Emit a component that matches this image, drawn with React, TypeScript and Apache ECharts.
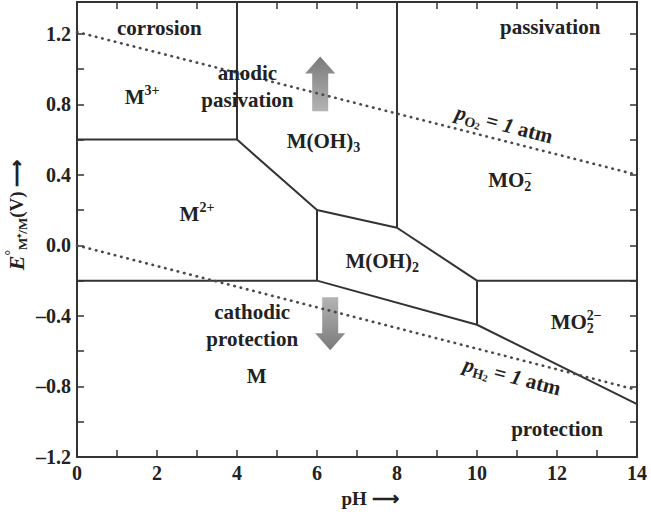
import React, { useEffect, useRef } from "react";
import * as echarts from "echarts";

// axis ranges
const phRange = [0, 14];
const eRange = [-1.2, 1.38];

// phase boundaries (pH, E)
const lineM3M2 = [[0, 0.6], [4, 0.6]];
const lineM3Passive = [[4, 0.6], [4, 1.38]];
const lineM2Hydroxide3 = [[4, 0.6], [6, 0.2]];
const lineHydroxides = [[6, 0.2], [8, 0.1]];
const lineHydroxide3MO2 = [[8, 0.1], [8, 1.38]];
const lineM2Hydroxide2 = [[6, 0.2], [6, -0.2]];
const lineHydroxide2MO2 = [[8, 0.1], [10, -0.2]];
const lineM2Metal = [[0, -0.2], [6, -0.2]];
const lineMO2MO22 = [[10, -0.2], [14, -0.2]];
const lineHydroxide2MO22 = [[10, -0.2], [10, -0.45]];
const lineMetalUpper = [[6, -0.2], [10, -0.45], [14, -0.9]];
const boundaries = [
  lineM3M2, lineM3Passive, lineM2Hydroxide3, lineHydroxides, lineHydroxide3MO2,
  lineM2Hydroxide2, lineHydroxide2MO2, lineM2Metal, lineMO2MO22, lineHydroxide2MO22, lineMetalUpper,
];

// water stability lines
const oxygenLine = [[0, 1.21], [14, 0.4]];
const hydrogenLine = [[0, 0], [14, -0.82]];

// annotation texts
const labelTexts = [
  "corrosion",
  "passivation",
  "M{sup|3+}",
  "anodic\npasivation",
  "M(OH){sub|3}",
  "MO{sub|2}{supk|−}",
  "{it|p}{sub|O}{sub2|2} = {it|1} atm",
  "M{sup|2+}",
  "M(OH){sub|2}",
  "cathodic\nprotection",
  "M",
  "MO{sub|2}{supk|2−}",
  "{it|p}{sub|H}{sub2|2} = {it|1} atm",
  "protection",
];
const labelPH = [2.06, 11.83, 1.63, 4.26, 6.16, 10.83, 10.68, 3.0, 7.63, 4.38, 4.49, 12.48, 10.88, 12.0];
const labelE = [1.23, 1.238, 0.84, 0.9, 0.59, 0.37, 0.686, 0.176, -0.09, -0.453, -0.742, -0.436, -0.742, -1.04];
const labelRot = [0, 0, 0, 0, 0, 0, -14.6, 0, 0, 0, 0, 0, -14.6, 0];

// arrows (pH, base E, tip E)
const arrowPH = [6.08, 6.33];
const arrowBase = [0.76, -0.294];
const arrowTip = [1.071, -0.594];

const FONT = "'Liberation Serif', 'Times New Roman', serif";
const TEXT = "#222";
const LINE = "#333";

const rich = {
  sup: { fontSize: 14, fontFamily: FONT, fontWeight: "bold", fill: TEXT, verticalAlign: "top", lineHeight: 13 },
  supk: { fontSize: 14, fontFamily: FONT, fontWeight: "bold", fill: TEXT, verticalAlign: "top", lineHeight: 11, padding: [0, 0, 0, -7] },
  sub: { fontSize: 14, fontFamily: FONT, fontWeight: "bold", fill: TEXT, verticalAlign: "bottom", lineHeight: 12 },
  sub2: { fontSize: 10, fontFamily: FONT, fontWeight: "bold", fill: TEXT, verticalAlign: "bottom", lineHeight: 6 },
  it: { fontSize: 21, fontFamily: FONT, fontWeight: "bold", fontStyle: "italic", fill: TEXT, lineHeight: 26 },
};

function fmtY(v: number) {
  const k = Math.round(v / 0.4);
  if (Math.abs(k * 0.4 - v) > 1e-6 || v > 1.2001) return "";
  const s = (k * 0.4).toFixed(1);
  return s.startsWith("-") ? "–" + s.slice(1) : s;
}
function fmtX(v: number) {
  const r = Math.round(v);
  return r % 2 === 0 ? String(r) : "";
}

const axisLine = { onZero: false, lineStyle: { color: LINE, width: 2 } };
const axisTick = { inside: true, length: 7, lineStyle: { color: LINE, width: 1.5 } };
const labelStyle = { fontFamily: FONT, fontWeight: "bold", fontSize: 20, color: TEXT };

export default function App() {
  const ref = useRef<HTMLDivElement>(null);
  useEffect(() => {
    document.body.style.margin = "0";
    const chart = echarts.init(ref.current!, null, { renderer: "svg" });
    const series: any[] = [];
    boundaries.forEach((b) => {
      series.push({
        type: "line",
        data: b,
        symbol: "none",
        lineStyle: { color: LINE, width: 2 },
        silent: true,
      });
    });
    [oxygenLine, hydrogenLine].forEach((d) => {
      series.push({
        type: "line",
        data: d,
        symbol: "none",
        lineStyle: { color: "#4a4a4a", width: 2.6, type: [0.5, 6], cap: "round" },
        silent: true,
      });
    });
    series.push({
      type: "custom",
      data: arrowPH.map((p, i) => [p, arrowBase[i], arrowTip[i]]),
      renderItem: (params: any, api: any) => {
        const base = api.coord([api.value(0), api.value(1)]);
        const tip = api.coord([api.value(0), api.value(2)]);
        const dir = tip[1] < base[1] ? -1 : 1;
        const x = base[0];
        const shaft = 8;
        const head = 15;
        const headLen = 17;
        const hb = tip[1] - dir * headLen;
        const points = [
          [x - shaft, base[1]],
          [x - shaft, hb],
          [x - head, hb],
          [x, tip[1]],
          [x + head, hb],
          [x + shaft, hb],
          [x + shaft, base[1]],
        ];
        const dark = "#7a7a7a";
        const light = "#b4b4b4";
        return {
          type: "polygon",
          shape: { points },
          style: {
            fill: new echarts.graphic.LinearGradient(0, 0, 0, 1, [
              { offset: 0, color: dir < 0 ? dark : light },
              { offset: 1, color: dir < 0 ? light : dark },
            ]),
            stroke: "none",
          },
        };
      },
      silent: true,
      z: 3,
    });
    series.push({
      type: "custom",
      data: labelPH.map((p, i) => [p, labelE[i], i]),
      renderItem: (params: any, api: any) => {
        const i = api.value(2);
        const pt = api.coord([api.value(0), api.value(1)]);
        return {
          type: "text",
          x: pt[0],
          y: pt[1],
          rotation: (labelRot[i] * Math.PI) / 180,
          style: {
            text: labelTexts[i],
            rich,
            fontFamily: FONT,
            fontWeight: "bold",
            fontSize: 21,
            lineHeight: 27,
            fill: TEXT,
            align: "center",
            verticalAlign: "middle",
          },
        };
      },
      silent: true,
      z: 5,
    });

    chart.setOption({
      animation: false,
      grid: { left: 77, right: 14, top: 2, bottom: 55 },
      xAxis: [
        {
          type: "value", min: phRange[0], max: phRange[1], interval: 1, position: "bottom",
          axisLine, axisTick, splitLine: { show: false },
          axisLabel: { ...labelStyle, formatter: fmtX, margin: 6 },
        },
        {
          type: "value", min: phRange[0], max: phRange[1], interval: 1, position: "top",
          axisLine, axisTick, splitLine: { show: false }, axisLabel: { show: false },
        },
      ],
      yAxis: [
        {
          type: "value", min: eRange[0], max: eRange[1], interval: 0.2, position: "left",
          axisLine, axisTick, splitLine: { show: false },
          axisLabel: { ...labelStyle, formatter: fmtY, margin: 6 },
        },
        {
          type: "value", min: eRange[0], max: eRange[1], interval: 0.2, position: "right",
          axisLine, axisTick, splitLine: { show: false }, axisLabel: { show: false },
        },
      ],
      graphic: [
        {
          type: "text",
          x: 16,
          y: 215,
          rotation: Math.PI / 2,
          style: {
            text: "{it|E}{sup|°}{sub|M⁺/M}(V) ⟶",
            rich: {
              ...rich,
              it: { ...rich.it, fontSize: 22 },
              sub: { ...rich.sub, fontSize: 13 },
            },
            fontFamily: FONT,
            fontWeight: "bold",
            fontSize: 19,
            fill: TEXT,
            align: "center",
            verticalAlign: "middle",
          },
        },
        {
          type: "text",
          x: 370,
          y: 498,
          style: {
            text: "pH ⟶",
            fontFamily: FONT,
            fontWeight: "bold",
            fontSize: 19,
            fill: TEXT,
            align: "center",
            verticalAlign: "middle",
          },
        },
      ],
      series,
    });
    return () => chart.dispose();
  }, []);
  return <div ref={ref} style={{ width: 651, height: 512 }} />;
}
